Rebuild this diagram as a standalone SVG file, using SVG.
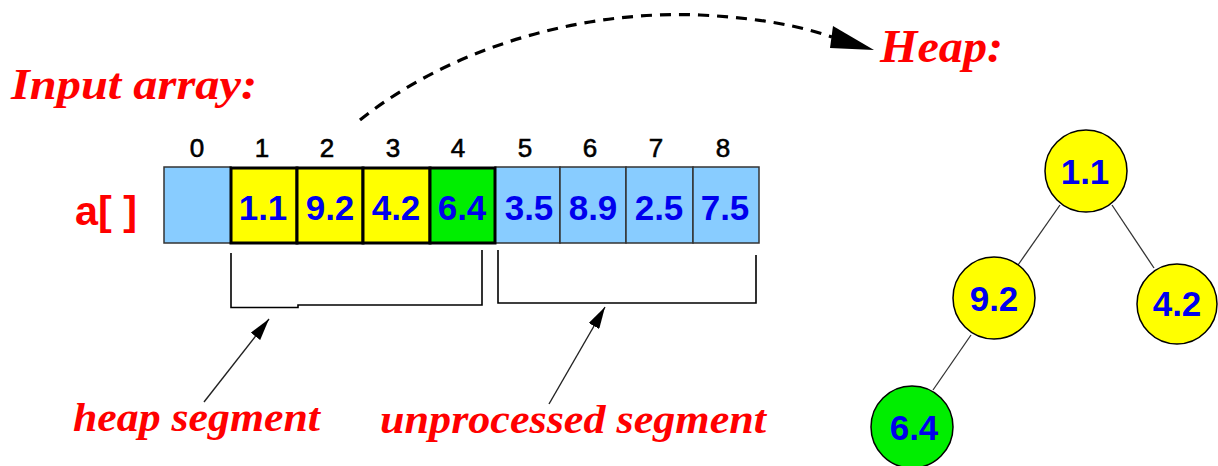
<svg xmlns="http://www.w3.org/2000/svg" width="1218" height="466" viewBox="0 0 1218 466">
<defs>
<style>
.title{font-family:"Liberation Serif",serif;font-weight:bold;font-style:italic;fill:#ff0000}
.idx{font-family:"Liberation Sans",sans-serif;font-size:26px;fill:#000;stroke:#000;stroke-width:0.6;text-anchor:middle}
.val{font-family:"Liberation Sans",sans-serif;font-weight:bold;font-size:35px;fill:#0000ee;text-anchor:middle}
.tval{font-family:"Liberation Sans",sans-serif;font-weight:bold;font-size:35px;fill:#0000ee;text-anchor:middle}
.blue{fill:#88ccff;stroke:#333;stroke-width:1.5}
.heapcell{stroke:#000;stroke-width:3}
.node{stroke:#000;stroke-width:1.5}
.edge{stroke:#333;stroke-width:1.3;fill:none}
.brk{stroke:#000;stroke-width:1.6;fill:none}
.ptr{stroke:#222;stroke-width:1.4;fill:none;marker-end:url(#ah)}
</style>
<marker id="ah" markerUnits="userSpaceOnUse" markerWidth="24" markerHeight="12" refX="22" refY="6" orient="auto">
<path d="M0,0 L22,6 L0,12 z" fill="#000"/>
</marker>
</defs>
<rect width="1218" height="466" fill="#fff"/>

<text id="input-array-label" class="title" x="11" y="99" font-size="45" textLength="246" lengthAdjust="spacingAndGlyphs">Input array:</text>
<text id="heap-label" class="title" x="880" y="62" font-size="47" textLength="123" lengthAdjust="spacingAndGlyphs">Heap:</text>
<text id="a-label" x="75" y="225" font-family="Liberation Sans, sans-serif" font-weight="bold" font-size="40" fill="#ff0000" textLength="62" lengthAdjust="spacingAndGlyphs">a[ ]</text>

<g id="indices">
<text class="idx" x="197" y="157">0</text>
<text class="idx" x="262" y="157">1</text>
<text class="idx" x="327" y="157">2</text>
<text class="idx" x="393" y="157">3</text>
<text class="idx" x="458" y="157">4</text>
<text class="idx" x="525" y="157">5</text>
<text class="idx" x="590" y="157">6</text>
<text class="idx" x="656" y="157">7</text>
<text class="idx" x="723" y="157">8</text>
</g>

<g id="array">
<rect class="blue" x="164" y="167" width="67" height="76"/>
<rect class="blue" x="495" y="167" width="65" height="76"/>
<rect class="blue" x="560" y="167" width="66" height="76"/>
<rect class="blue" x="626" y="167" width="67" height="76"/>
<rect class="blue" x="693" y="167" width="66" height="76"/>
<rect class="heapcell" x="231" y="168" width="66" height="75" fill="#ffff00"/>
<rect class="heapcell" x="297" y="168" width="66" height="75" fill="#ffff00"/>
<rect class="heapcell" x="363" y="168" width="67" height="75" fill="#ffff00"/>
<rect class="heapcell" x="430" y="168" width="65" height="75" fill="#00ee00"/>
<text class="val" x="263" y="220">1.1</text>
<text class="val" x="330" y="220">9.2</text>
<text class="val" x="396" y="220">4.2</text>
<text class="val" x="462" y="220">6.4</text>
<text class="val" x="529" y="220">3.5</text>
<text class="val" x="593" y="220">8.9</text>
<text class="val" x="659" y="220">2.5</text>
<text class="val" x="725" y="220">7.5</text>
</g>

<g id="connectors">
<path class="brk" d="M231,253 V307.5 H298 V305 H482 V250"/>
<path class="brk" d="M498,250 V303 H756 V255"/>
<line class="ptr" x1="204" y1="402" x2="269" y2="319"/>
<line class="ptr" x1="549" y1="404" x2="605" y2="307"/>
<path d="M360,120 C450,48 580,10 700,15 C760,18 800,26 832,37" fill="none" stroke="#000" stroke-width="3.2" stroke-dasharray="11,8"/>
<polygon points="833,26 874,50 830,48" fill="#000"/>
<line class="edge" x1="1060" y1="205" x2="1018" y2="265"/>
<line class="edge" x1="1112" y1="205" x2="1154" y2="268"/>
<line class="edge" x1="971" y1="335" x2="933" y2="390"/>
</g>

<text id="heap-segment-label" class="title" x="73" y="431" font-size="40" textLength="247" lengthAdjust="spacingAndGlyphs">heap segment</text>
<text id="unprocessed-segment-label" class="title" x="380" y="433" font-size="40" textLength="386" lengthAdjust="spacingAndGlyphs">unprocessed segment</text>

<g id="node-1-1"><circle class="node" cx="1086" cy="171" r="41" fill="#ffff00"/><text class="tval" x="1085" y="184">1.1</text></g>
<g id="node-9-2"><circle class="node" cx="994" cy="298" r="41" fill="#ffff00"/><text class="tval" x="994" y="311">9.2</text></g>
<g id="node-4-2"><circle class="node" cx="1177" cy="304" r="40" fill="#ffff00"/><text class="tval" x="1177" y="316">4.2</text></g>
<g id="node-6-4"><circle class="node" cx="912" cy="427" r="41" fill="#00ee00"/><text class="tval" x="914" y="440">6.4</text></g>
</svg>
